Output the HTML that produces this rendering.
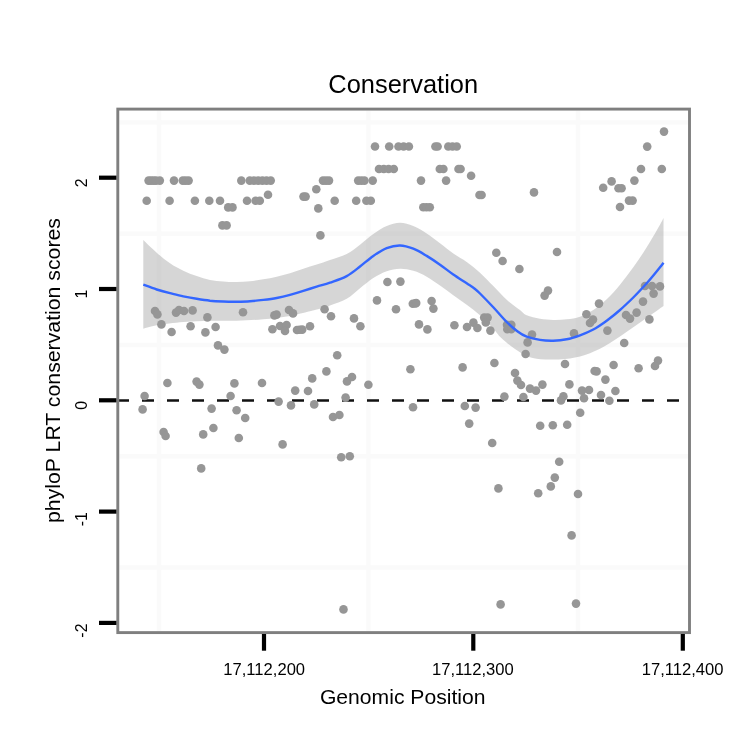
<!DOCTYPE html>
<html><head><meta charset="utf-8"><title>Conservation</title>
<style>
html,body{margin:0;padding:0;background:#fff}
body{width:750px;height:750px;overflow:hidden}
svg{display:block}
text{font-family:"Liberation Sans",Arial,Helvetica,sans-serif;fill:#000}
</style></head><body>
<svg width="750" height="750" viewBox="0 0 750 750">
<rect width="750" height="750" fill="#fff"/>

<g stroke="#fafafa" stroke-width="4.4">
<line x1="119.5" x2="688" y1="122.4" y2="122.4"/>
<line x1="119.5" x2="688" y1="233.7" y2="233.7"/>
<line x1="119.5" x2="688" y1="345.0" y2="345.0"/>
<line x1="119.5" x2="688" y1="456.2" y2="456.2"/>
<line x1="119.5" x2="688" y1="567.5" y2="567.5"/>
<line x1="159.0" x2="159.0" y1="110.5" y2="631"/>
<line x1="368.4" x2="368.4" y1="110.5" y2="631"/>
<line x1="578.0" x2="578.0" y1="110.5" y2="631"/>
</g>
<path d="M143.3 240.1C145.5 242.2 152.2 248.8 156.7 252.7C161.1 256.6 165.6 260.3 170.0 263.3C174.4 266.3 178.9 268.7 183.3 270.8C187.8 272.9 192.2 274.6 196.7 276.1C201.1 277.6 205.6 279.0 210.0 279.9C214.4 280.8 218.9 281.1 223.3 281.5C227.8 281.9 232.2 282.1 236.7 282.0C241.1 281.9 245.6 281.6 250.0 281.2C254.4 280.8 258.9 280.1 263.3 279.3C267.8 278.6 272.2 277.7 276.7 276.7C281.1 275.7 285.6 274.5 290.0 273.2C294.4 271.9 298.9 270.1 303.3 268.7C307.8 267.2 312.2 265.9 316.7 264.5C321.1 263.1 325.0 261.8 330.0 260.0C335.0 258.2 341.7 256.6 346.7 254.0C351.7 251.4 355.6 248.0 360.0 244.7C364.4 241.4 368.9 237.1 373.3 234.0C377.8 230.9 382.2 227.9 386.7 226.0C391.1 224.1 395.6 222.8 400.0 222.8C404.4 222.8 408.9 224.2 413.3 226.0C417.8 227.8 422.2 230.6 426.7 233.5C431.1 236.4 435.6 240.0 440.0 243.3C444.4 246.6 448.9 250.4 453.3 253.5C457.8 256.6 462.2 258.8 466.7 262.0C471.1 265.2 475.6 268.7 480.0 272.7C484.4 276.7 488.9 281.5 493.3 286.0C497.8 290.5 502.2 295.8 506.7 299.8C511.1 303.8 516.7 307.4 520.0 310.0C523.3 312.6 523.4 313.8 526.7 315.3C530.0 316.8 535.6 318.0 540.0 318.8C544.4 319.6 548.8 319.8 553.3 319.9C557.8 320.0 562.2 319.8 566.7 319.3C571.2 318.8 575.6 318.2 580.0 316.7C584.4 315.1 588.8 312.9 593.3 310.0C597.8 307.1 602.2 303.5 606.7 299.3C611.2 295.1 615.6 290.0 620.0 284.7C624.4 279.4 628.8 273.5 633.3 267.3C637.8 261.1 642.2 254.4 646.7 247.3C651.2 240.2 657.2 229.6 660.0 224.7C662.8 219.8 662.9 219.1 663.5 218.0L663.5 306.0C660.4 308.2 651.4 314.5 645.0 319.0C638.6 323.5 631.7 328.5 625.0 333.0C618.3 337.5 611.7 342.3 605.0 346.0C598.3 349.7 591.7 352.8 585.0 355.0C578.3 357.2 571.7 358.3 565.0 359.0C558.3 359.7 551.0 359.7 545.0 359.4C539.0 359.1 534.0 358.7 529.0 357.0C524.0 355.3 519.6 352.2 515.0 349.0C510.4 345.8 504.9 341.4 501.3 338.0C497.7 334.6 496.9 332.5 493.3 328.7C489.8 324.9 484.4 319.3 480.0 315.3C475.6 311.3 471.1 308.0 466.7 304.7C462.2 301.4 457.8 298.5 453.3 295.3C448.9 292.1 444.4 288.6 440.0 285.5C435.6 282.4 431.1 279.1 426.7 276.7C422.2 274.2 417.8 272.1 413.3 270.8C408.9 269.5 404.4 268.6 400.0 268.7C395.6 268.8 391.1 269.8 386.7 271.3C382.2 272.9 377.8 275.2 373.3 278.0C368.9 280.8 364.4 284.8 360.0 288.3C355.6 291.8 351.7 296.0 346.7 298.8C341.7 301.6 335.0 303.6 330.0 305.4C325.0 307.2 323.4 307.9 316.7 309.6C310.0 311.4 298.9 314.3 290.0 315.9C281.1 317.5 272.2 318.5 263.3 319.3C254.4 320.1 245.6 320.5 236.7 320.7C227.8 320.9 218.9 320.5 210.0 320.7C201.1 320.9 192.2 321.2 183.3 322.0C174.4 322.8 163.4 324.1 156.7 325.2C150.0 326.3 145.5 328.1 143.3 328.7Z" fill="#999" fill-opacity="0.4"/>
<line x1="117" x2="689" y1="400.5" y2="400.5" stroke="#111" stroke-width="2.6" stroke-dasharray="12 13"/>
<g fill="#969696">
<circle cx="148.6" cy="180.6" r="4.3"/>
<circle cx="151.0" cy="180.6" r="4.3"/>
<circle cx="153.5" cy="180.6" r="4.3"/>
<circle cx="156.0" cy="180.6" r="4.3"/>
<circle cx="159.8" cy="180.6" r="4.3"/>
<circle cx="174.0" cy="180.6" r="4.3"/>
<circle cx="182.8" cy="180.6" r="4.3"/>
<circle cx="185.6" cy="180.6" r="4.3"/>
<circle cx="188.6" cy="180.6" r="4.3"/>
<circle cx="241.3" cy="180.6" r="4.3"/>
<circle cx="249.8" cy="180.6" r="4.3"/>
<circle cx="254.0" cy="180.6" r="4.3"/>
<circle cx="258.2" cy="180.6" r="4.3"/>
<circle cx="262.4" cy="180.6" r="4.3"/>
<circle cx="266.5" cy="180.6" r="4.3"/>
<circle cx="270.7" cy="180.6" r="4.3"/>
<circle cx="323.0" cy="180.6" r="4.3"/>
<circle cx="326.0" cy="180.6" r="4.3"/>
<circle cx="329.0" cy="180.6" r="4.3"/>
<circle cx="358.2" cy="180.6" r="4.3"/>
<circle cx="361.3" cy="180.6" r="4.3"/>
<circle cx="364.4" cy="180.6" r="4.3"/>
<circle cx="372.7" cy="180.6" r="4.3"/>
<circle cx="421.0" cy="180.6" r="4.3"/>
<circle cx="446.1" cy="180.6" r="4.3"/>
<circle cx="146.7" cy="200.7" r="4.3"/>
<circle cx="169.6" cy="200.7" r="4.3"/>
<circle cx="194.9" cy="200.7" r="4.3"/>
<circle cx="209.3" cy="200.7" r="4.3"/>
<circle cx="220.0" cy="200.7" r="4.3"/>
<circle cx="247.0" cy="200.7" r="4.3"/>
<circle cx="255.6" cy="200.7" r="4.3"/>
<circle cx="259.8" cy="200.7" r="4.3"/>
<circle cx="334.7" cy="200.7" r="4.3"/>
<circle cx="356.2" cy="200.7" r="4.3"/>
<circle cx="366.4" cy="200.7" r="4.3"/>
<circle cx="370.8" cy="200.7" r="4.3"/>
<circle cx="228.2" cy="207.4" r="4.3"/>
<circle cx="232.5" cy="207.4" r="4.3"/>
<circle cx="222.4" cy="225.4" r="4.3"/>
<circle cx="226.6" cy="225.4" r="4.3"/>
<circle cx="375.0" cy="146.5" r="4.3"/>
<circle cx="389.2" cy="146.5" r="4.3"/>
<circle cx="398.5" cy="146.5" r="4.3"/>
<circle cx="403.6" cy="146.5" r="4.3"/>
<circle cx="408.9" cy="146.5" r="4.3"/>
<circle cx="435.4" cy="146.5" r="4.3"/>
<circle cx="437.6" cy="146.5" r="4.3"/>
<circle cx="448.3" cy="146.5" r="4.3"/>
<circle cx="452.5" cy="146.5" r="4.3"/>
<circle cx="456.7" cy="146.5" r="4.3"/>
<circle cx="379.0" cy="169.0" r="4.3"/>
<circle cx="383.8" cy="169.0" r="4.3"/>
<circle cx="388.6" cy="169.0" r="4.3"/>
<circle cx="393.8" cy="169.0" r="4.3"/>
<circle cx="439.8" cy="169.0" r="4.3"/>
<circle cx="443.4" cy="169.0" r="4.3"/>
<circle cx="458.5" cy="169.0" r="4.3"/>
<circle cx="460.6" cy="169.0" r="4.3"/>
<circle cx="641.0" cy="169.0" r="4.3"/>
<circle cx="661.8" cy="169.0" r="4.3"/>
<circle cx="268.0" cy="194.7" r="4.3"/>
<circle cx="316.3" cy="189.3" r="4.3"/>
<circle cx="303.5" cy="196.6" r="4.3"/>
<circle cx="305.6" cy="196.6" r="4.3"/>
<circle cx="318.3" cy="208.4" r="4.3"/>
<circle cx="320.4" cy="235.4" r="4.3"/>
<circle cx="471.1" cy="175.7" r="4.3"/>
<circle cx="479.5" cy="195.0" r="4.3"/>
<circle cx="481.6" cy="195.0" r="4.3"/>
<circle cx="534.0" cy="192.4" r="4.3"/>
<circle cx="423.3" cy="207.2" r="4.3"/>
<circle cx="426.5" cy="207.2" r="4.3"/>
<circle cx="429.8" cy="207.2" r="4.3"/>
<circle cx="496.3" cy="252.8" r="4.3"/>
<circle cx="557.0" cy="252.0" r="4.3"/>
<circle cx="664.0" cy="131.6" r="4.3"/>
<circle cx="647.2" cy="146.6" r="4.3"/>
<circle cx="634.4" cy="180.6" r="4.3"/>
<circle cx="611.6" cy="181.4" r="4.3"/>
<circle cx="603.2" cy="187.8" r="4.3"/>
<circle cx="618.5" cy="188.2" r="4.3"/>
<circle cx="621.6" cy="188.2" r="4.3"/>
<circle cx="629.0" cy="200.6" r="4.3"/>
<circle cx="632.6" cy="200.6" r="4.3"/>
<circle cx="620.0" cy="207.0" r="4.3"/>
<circle cx="155.0" cy="311.0" r="4.3"/>
<circle cx="157.4" cy="314.4" r="4.3"/>
<circle cx="161.4" cy="324.4" r="4.3"/>
<circle cx="171.6" cy="332.0" r="4.3"/>
<circle cx="176.0" cy="312.6" r="4.3"/>
<circle cx="179.0" cy="310.0" r="4.3"/>
<circle cx="184.0" cy="311.0" r="4.3"/>
<circle cx="192.6" cy="310.4" r="4.3"/>
<circle cx="190.6" cy="326.2" r="4.3"/>
<circle cx="207.4" cy="317.4" r="4.3"/>
<circle cx="205.4" cy="332.4" r="4.3"/>
<circle cx="215.6" cy="327.0" r="4.3"/>
<circle cx="218.0" cy="345.4" r="4.3"/>
<circle cx="224.4" cy="349.6" r="4.3"/>
<circle cx="243.0" cy="312.2" r="4.3"/>
<circle cx="167.4" cy="383.0" r="4.3"/>
<circle cx="196.6" cy="381.6" r="4.3"/>
<circle cx="199.4" cy="384.6" r="4.3"/>
<circle cx="234.4" cy="383.4" r="4.3"/>
<circle cx="262.0" cy="383.0" r="4.3"/>
<circle cx="144.6" cy="396.0" r="4.3"/>
<circle cx="230.6" cy="396.0" r="4.3"/>
<circle cx="274.4" cy="315.4" r="4.3"/>
<circle cx="276.6" cy="314.6" r="4.3"/>
<circle cx="289.0" cy="310.0" r="4.3"/>
<circle cx="293.0" cy="313.4" r="4.3"/>
<circle cx="324.6" cy="309.2" r="4.3"/>
<circle cx="331.0" cy="316.2" r="4.3"/>
<circle cx="354.0" cy="318.4" r="4.3"/>
<circle cx="360.4" cy="326.2" r="4.3"/>
<circle cx="387.4" cy="282.0" r="4.3"/>
<circle cx="400.4" cy="281.6" r="4.3"/>
<circle cx="377.0" cy="300.4" r="4.3"/>
<circle cx="396.0" cy="309.2" r="4.3"/>
<circle cx="415.5" cy="303.4" r="4.3"/>
<circle cx="272.4" cy="329.2" r="4.3"/>
<circle cx="280.0" cy="326.0" r="4.3"/>
<circle cx="286.6" cy="325.0" r="4.3"/>
<circle cx="285.0" cy="331.0" r="4.3"/>
<circle cx="297.0" cy="330.0" r="4.3"/>
<circle cx="299.6" cy="329.8" r="4.3"/>
<circle cx="302.2" cy="329.6" r="4.3"/>
<circle cx="310.0" cy="326.2" r="4.3"/>
<circle cx="337.2" cy="355.2" r="4.3"/>
<circle cx="326.4" cy="371.4" r="4.3"/>
<circle cx="312.2" cy="378.4" r="4.3"/>
<circle cx="347.0" cy="381.4" r="4.3"/>
<circle cx="352.0" cy="377.0" r="4.3"/>
<circle cx="368.4" cy="384.8" r="4.3"/>
<circle cx="410.4" cy="369.2" r="4.3"/>
<circle cx="295.2" cy="390.6" r="4.3"/>
<circle cx="308.0" cy="391.0" r="4.3"/>
<circle cx="502.6" cy="261.0" r="4.3"/>
<circle cx="519.4" cy="269.0" r="4.3"/>
<circle cx="548.0" cy="290.6" r="4.3"/>
<circle cx="544.6" cy="295.6" r="4.3"/>
<circle cx="431.6" cy="301.0" r="4.3"/>
<circle cx="433.4" cy="308.6" r="4.3"/>
<circle cx="412.8" cy="303.7" r="4.3"/>
<circle cx="416.2" cy="303.0" r="4.3"/>
<circle cx="419.0" cy="324.4" r="4.3"/>
<circle cx="427.4" cy="329.4" r="4.3"/>
<circle cx="454.4" cy="325.2" r="4.3"/>
<circle cx="467.0" cy="327.0" r="4.3"/>
<circle cx="473.4" cy="322.6" r="4.3"/>
<circle cx="477.4" cy="328.0" r="4.3"/>
<circle cx="484.2" cy="317.6" r="4.3"/>
<circle cx="487.6" cy="317.6" r="4.3"/>
<circle cx="485.8" cy="322.4" r="4.3"/>
<circle cx="490.4" cy="330.6" r="4.3"/>
<circle cx="507.0" cy="324.7" r="4.3"/>
<circle cx="511.3" cy="324.7" r="4.3"/>
<circle cx="507.3" cy="329.2" r="4.3"/>
<circle cx="511.3" cy="329.2" r="4.3"/>
<circle cx="532.0" cy="334.6" r="4.3"/>
<circle cx="527.6" cy="342.4" r="4.3"/>
<circle cx="525.6" cy="354.0" r="4.3"/>
<circle cx="494.4" cy="363.0" r="4.3"/>
<circle cx="462.6" cy="367.4" r="4.3"/>
<circle cx="565.0" cy="364.0" r="4.3"/>
<circle cx="515.0" cy="373.0" r="4.3"/>
<circle cx="517.4" cy="380.6" r="4.3"/>
<circle cx="521.0" cy="385.0" r="4.3"/>
<circle cx="530.0" cy="388.6" r="4.3"/>
<circle cx="536.0" cy="390.6" r="4.3"/>
<circle cx="542.4" cy="384.6" r="4.3"/>
<circle cx="504.4" cy="396.6" r="4.3"/>
<circle cx="523.4" cy="397.0" r="4.3"/>
<circle cx="563.4" cy="396.4" r="4.3"/>
<circle cx="561.0" cy="400.4" r="4.3"/>
<circle cx="645.0" cy="286.0" r="4.3"/>
<circle cx="652.0" cy="286.0" r="4.3"/>
<circle cx="660.0" cy="286.4" r="4.3"/>
<circle cx="653.6" cy="293.6" r="4.3"/>
<circle cx="643.0" cy="301.6" r="4.3"/>
<circle cx="599.0" cy="303.6" r="4.3"/>
<circle cx="586.4" cy="314.2" r="4.3"/>
<circle cx="590.0" cy="323.0" r="4.3"/>
<circle cx="593.0" cy="319.6" r="4.3"/>
<circle cx="636.6" cy="312.6" r="4.3"/>
<circle cx="626.0" cy="315.0" r="4.3"/>
<circle cx="630.0" cy="318.6" r="4.3"/>
<circle cx="649.4" cy="319.4" r="4.3"/>
<circle cx="607.4" cy="330.6" r="4.3"/>
<circle cx="574.0" cy="333.4" r="4.3"/>
<circle cx="624.2" cy="343.0" r="4.3"/>
<circle cx="613.6" cy="365.0" r="4.3"/>
<circle cx="594.6" cy="371.0" r="4.3"/>
<circle cx="596.6" cy="371.4" r="4.3"/>
<circle cx="638.6" cy="368.2" r="4.3"/>
<circle cx="658.0" cy="360.6" r="4.3"/>
<circle cx="655.0" cy="366.0" r="4.3"/>
<circle cx="605.4" cy="379.6" r="4.3"/>
<circle cx="569.4" cy="384.4" r="4.3"/>
<circle cx="582.0" cy="390.6" r="4.3"/>
<circle cx="589.0" cy="390.0" r="4.3"/>
<circle cx="615.4" cy="391.0" r="4.3"/>
<circle cx="601.0" cy="395.0" r="4.3"/>
<circle cx="584.0" cy="398.2" r="4.3"/>
<circle cx="609.4" cy="400.8" r="4.3"/>
<circle cx="142.6" cy="409.4" r="4.3"/>
<circle cx="211.6" cy="408.6" r="4.3"/>
<circle cx="236.6" cy="410.2" r="4.3"/>
<circle cx="245.2" cy="418.0" r="4.3"/>
<circle cx="163.6" cy="432.0" r="4.3"/>
<circle cx="165.6" cy="436.0" r="4.3"/>
<circle cx="213.4" cy="428.0" r="4.3"/>
<circle cx="203.2" cy="434.4" r="4.3"/>
<circle cx="238.8" cy="438.0" r="4.3"/>
<circle cx="201.2" cy="468.4" r="4.3"/>
<circle cx="278.6" cy="401.6" r="4.3"/>
<circle cx="291.0" cy="405.4" r="4.3"/>
<circle cx="314.2" cy="404.4" r="4.3"/>
<circle cx="345.6" cy="397.6" r="4.3"/>
<circle cx="333.0" cy="417.0" r="4.3"/>
<circle cx="339.4" cy="415.0" r="4.3"/>
<circle cx="413.0" cy="407.3" r="4.3"/>
<circle cx="282.6" cy="444.4" r="4.3"/>
<circle cx="341.2" cy="457.2" r="4.3"/>
<circle cx="349.8" cy="456.2" r="4.3"/>
<circle cx="464.8" cy="406.0" r="4.3"/>
<circle cx="475.6" cy="407.6" r="4.3"/>
<circle cx="469.2" cy="423.6" r="4.3"/>
<circle cx="492.2" cy="443.0" r="4.3"/>
<circle cx="540.2" cy="425.8" r="4.3"/>
<circle cx="552.8" cy="425.2" r="4.3"/>
<circle cx="567.2" cy="424.8" r="4.3"/>
<circle cx="559.2" cy="461.8" r="4.3"/>
<circle cx="554.8" cy="477.6" r="4.3"/>
<circle cx="550.8" cy="486.4" r="4.3"/>
<circle cx="538.2" cy="493.2" r="4.3"/>
<circle cx="498.4" cy="488.4" r="4.3"/>
<circle cx="580.2" cy="412.8" r="4.3"/>
<circle cx="578.0" cy="494.0" r="4.3"/>
<circle cx="571.6" cy="535.4" r="4.3"/>
<circle cx="343.5" cy="609.4" r="4.3"/>
<circle cx="500.6" cy="604.4" r="4.3"/>
<circle cx="576.0" cy="603.6" r="4.3"/>
</g>
<path d="M143.3 284.7C145.5 285.5 152.2 288.1 156.7 289.5C161.1 290.9 165.6 292.1 170.0 293.2C174.4 294.3 178.9 295.5 183.3 296.4C187.8 297.3 192.2 298.1 196.7 298.8C201.1 299.5 205.6 300.2 210.0 300.7C214.4 301.1 218.9 301.3 223.3 301.5C227.8 301.7 232.2 301.8 236.7 301.7C241.1 301.6 245.6 301.5 250.0 301.2C254.4 300.9 258.9 300.4 263.3 299.9C267.8 299.4 272.2 298.9 276.7 298.0C281.1 297.1 285.6 296.0 290.0 294.8C294.4 293.6 298.9 292.2 303.3 290.8C307.8 289.4 312.2 288.1 316.7 286.7C321.1 285.3 325.0 284.5 330.0 282.7C335.0 280.9 341.7 278.8 346.7 276.1C351.7 273.4 355.6 269.9 360.0 266.5C364.4 263.1 368.9 259.0 373.3 255.9C377.8 252.8 382.2 249.8 386.7 248.1C391.1 246.4 395.6 245.4 400.0 245.5C404.4 245.6 408.9 247.0 413.3 248.7C417.8 250.4 422.2 253.2 426.7 255.9C431.1 258.6 435.6 261.6 440.0 264.7C444.4 267.8 448.9 271.4 453.3 274.5C457.8 277.6 463.1 280.9 466.7 283.3C470.3 285.7 472.5 287.0 474.7 288.7C476.9 290.4 476.9 290.4 480.0 293.5C483.1 296.6 488.9 302.6 493.3 307.3C497.8 312.1 502.7 318.0 506.7 322.0C510.7 326.0 514.0 328.9 517.3 331.3C520.6 333.8 522.9 335.3 526.7 336.7C530.5 338.1 535.6 339.2 540.0 339.9C544.4 340.6 548.8 340.8 553.3 340.7C557.8 340.6 562.2 340.2 566.7 339.3C571.2 338.4 575.6 336.9 580.0 335.3C584.4 333.7 588.8 331.9 593.3 329.5C597.8 327.1 602.2 323.9 606.7 320.7C611.2 317.4 615.6 313.9 620.0 310.0C624.4 306.1 628.8 301.9 633.3 297.5C637.8 293.1 642.2 288.3 646.7 283.3C651.2 278.3 657.2 270.7 660.0 267.3C662.8 263.9 662.9 263.6 663.5 262.8" fill="none" stroke="#3366ff" stroke-width="2.4" stroke-linejoin="round"/>
<rect x="117.8" y="109.1" width="571.7" height="523.5" fill="none" stroke="#7f7f7f" stroke-width="2.9"/>
<g stroke="#000" stroke-width="4.2">
<line x1="99" x2="116.4" y1="177.7" y2="177.7"/>
<line x1="99" x2="116.4" y1="289.0" y2="289.0"/>
<line x1="99" x2="116.4" y1="400.3" y2="400.3"/>
<line x1="99" x2="116.4" y1="511.6" y2="511.6"/>
<line x1="99" x2="116.4" y1="622.9" y2="622.9"/>
<line x1="264.0" x2="264.0" y1="634" y2="650.7"/>
<line x1="473.3" x2="473.3" y1="634" y2="650.7"/>
<line x1="682.8" x2="682.8" y1="634" y2="650.7"/>
</g>
<text x="264.2" y="674.9" font-size="15.9" text-anchor="middle" textLength="81.8" lengthAdjust="spacingAndGlyphs">17,112,200</text>
<text x="472.9" y="674.9" font-size="15.9" text-anchor="middle" textLength="81.8" lengthAdjust="spacingAndGlyphs">17,112,300</text>
<text x="682.6" y="674.9" font-size="15.9" text-anchor="middle" textLength="81.8" lengthAdjust="spacingAndGlyphs">17,112,400</text>
<text transform="translate(87.4 178.3) rotate(-90)" font-size="15.9" text-anchor="end">2</text>
<text transform="translate(87.4 289.6) rotate(-90)" font-size="15.9" text-anchor="end">1</text>
<text transform="translate(87.4 400.9) rotate(-90)" font-size="15.9" text-anchor="end">0</text>
<text transform="translate(87.4 512.2) rotate(-90)" font-size="15.9" text-anchor="end">-1</text>
<text transform="translate(87.4 623.5) rotate(-90)" font-size="15.9" text-anchor="end">-2</text>
<text x="403.2" y="93.1" font-size="25" text-anchor="middle" textLength="149.8" lengthAdjust="spacingAndGlyphs">Conservation</text>
<text x="402.7" y="704.2" font-size="21" text-anchor="middle" textLength="165.6" lengthAdjust="spacingAndGlyphs">Genomic Position</text>
<text transform="translate(60.4 370.5) rotate(-90)" font-size="21" text-anchor="middle" textLength="305" lengthAdjust="spacingAndGlyphs">phyloP LRT conservation scores</text>
</svg></body></html>
